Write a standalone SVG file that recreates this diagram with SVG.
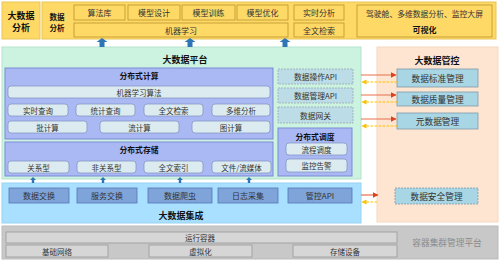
<svg xmlns="http://www.w3.org/2000/svg" width="500" height="263" viewBox="0 0 500 263">
<defs>
<style>
text{font-family:"Noto Sans CJK SC","Liberation Sans",sans-serif;fill:#333;text-anchor:middle;dominant-baseline:central}
.b{font-weight:bold;fill:#111}
.yel{fill:#FFD966;stroke:#E8C55A;stroke-width:1}
.yin{fill:#FFD966;stroke:#B8962E;stroke-width:0.8}
.grn{fill:#CCF2E0;stroke:#B5E3CC;stroke-width:1}
.per{fill:#AAB8F4;stroke:#7A8BD6;stroke-width:1}
.lt{fill:#DCEBF0;stroke:#8597C4;stroke-width:0.8}
.api{fill:#BCDDE8;stroke:#9AAAB0;stroke-width:0.8;stroke-dasharray:2 1}
.ib{fill:#A9E0FF;stroke:#98D2F2;stroke-width:1}
.ibox{fill:#7FA4DA;stroke:#5577B5;stroke-width:0.8}
.pch{fill:#FDE5D2;stroke:#F6D8C0;stroke-width:1}
.mg{fill:#A9D6E4;stroke:#7F9AA8;stroke-width:0.8}
.gry{fill:#C8C8C8;stroke:#BBBBBB;stroke-width:1}
.gin{fill:#D6D6D6;stroke:#9A9A9A;stroke-width:0.8}
.s{stroke:#E8704A;stroke-width:1.2;fill:none}
.d{stroke:#FFC000;stroke-width:1;stroke-dasharray:2.5 1.5;fill:none}
.blue{fill:#2E75B6}
</style>
<marker id="ah" viewBox="0 0 6 6" refX="5.5" refY="3" markerWidth="6" markerHeight="6" markerUnits="userSpaceOnUse" orient="auto"><path d="M0,0 L6,3 L0,6 Z" fill="#D9441C"/></marker>
<marker id="ahy" viewBox="0 0 6 6" refX="5.5" refY="3" markerWidth="5" markerHeight="5" markerUnits="userSpaceOnUse" orient="auto"><path d="M0,0 L6,3 L0,6 Z" fill="#FFC000"/></marker>
</defs>

<g id="analysis">
<rect class="yel" x="2" y="2" width="38" height="37"/>
<text class="b" x="21" y="15" font-size="9">大数据</text>
<text class="b" x="21" y="27" font-size="9">分析</text>
<rect class="yel" x="42" y="2" width="454" height="37"/>
<text class="b" x="57" y="16" font-size="7.5">数据</text>
<text class="b" x="57" y="27" font-size="7.5">分析</text>
<g id="n-suanfaku"><rect class="yin" x="74" y="5" width="51" height="15"/><text x="99.5" y="12.5" font-size="8">算法库</text></g>
<g id="n-moxingsheji"><rect class="yin" x="128" y="5" width="52" height="15"/><text x="154" y="12.5" font-size="8">模型设计</text></g>
<g id="n-moxingxunlian"><rect class="yin" x="182" y="5" width="53" height="15"/><text x="208.5" y="12.5" font-size="8">模型训练</text></g>
<g id="n-moxingyouhua"><rect class="yin" x="237" y="5" width="51" height="15"/><text x="262.5" y="12.5" font-size="8">模型优化</text></g>
<g id="n-jiqixuexi"><rect class="yin" x="74" y="23" width="214" height="14"/><text x="181" y="30" font-size="8">机器学习</text></g>
<g id="n-shishifenxi"><rect class="yin" x="294" y="5" width="50" height="15"/><text x="319" y="12.5" font-size="8">实时分析</text></g>
<g id="n-quanwenjiansuo-top"><rect class="yin" x="294" y="23" width="50" height="14"/><text x="319" y="30" font-size="8">全文检索</text></g>
<g id="n-keshihua"><rect class="yin" x="357" y="5" width="135" height="32"/><text x="424.5" y="13.5" font-size="7.8">驾驶舱、多维数据分析、监控大屏</text><text class="b" x="424.5" y="29" font-size="8">可视化</text></g>
</g>

<g id="platform">
<rect class="grn" x="2" y="47" width="359" height="132"/>
<text class="b" x="185" y="59" font-size="9">大数据平台</text>
<g id="compute">
<rect class="per" x="5" y="68" width="268" height="71"/>
<text class="b" x="139" y="75.5" font-size="7.8">分布式计算</text>
<g id="n-jqxxsf"><rect class="lt" x="8" y="86" width="262" height="12" rx="3"/><text x="139" y="92" font-size="7.5">机器学习算法</text></g>
<g id="n-sscx"><rect class="lt" x="8" y="104" width="60" height="12" rx="3"/><text x="38" y="110" font-size="7.5">实时查询</text></g>
<g id="n-tjcx"><rect class="lt" x="76" y="104" width="59" height="12" rx="3"/><text x="105.5" y="110" font-size="7.5">统计查询</text></g>
<g id="n-qwjs"><rect class="lt" x="144" y="104" width="59" height="12" rx="3"/><text x="173.5" y="110" font-size="7.5">全文检索</text></g>
<g id="n-dwfx"><rect class="lt" x="212" y="104" width="58" height="12" rx="3"/><text x="241" y="110" font-size="7.5">多维分析</text></g>
<g id="n-pjs"><rect class="lt" x="8" y="121" width="79" height="12" rx="3"/><text x="47.5" y="127" font-size="7.5">批计算</text></g>
<g id="n-ljs"><rect class="lt" x="100" y="121" width="79" height="12" rx="3"/><text x="139.5" y="127" font-size="7.5">流计算</text></g>
<g id="n-tjs"><rect class="lt" x="192" y="121" width="78" height="12" rx="3"/><text x="231" y="127" font-size="7.5">图计算</text></g>
</g>
<g id="storage">
<rect class="per" x="5" y="142" width="268" height="34"/>
<text class="b" x="139" y="149" font-size="7.8">分布式存储</text>
<g id="n-gxx"><rect class="lt" x="8" y="161" width="61" height="12" rx="3"/><text x="38.5" y="167" font-size="7.5">关系型</text></g>
<g id="n-fgxx"><rect class="lt" x="77" y="161" width="59" height="12" rx="3"/><text x="106.5" y="167" font-size="7.5">非关系型</text></g>
<g id="n-qwsy"><rect class="lt" x="144" y="161" width="59" height="12" rx="3"/><text x="173.5" y="167" font-size="7.5">全文索引</text></g>
<g id="n-wjlmt"><rect class="lt" x="212" y="161" width="59" height="12" rx="3"/><text x="241.5" y="167" font-size="7.5">文件/流媒体</text></g>
</g>
<g id="n-sjczapi"><rect class="api" x="278" y="69" width="75" height="15"/><text x="315.5" y="76.5" font-size="7.8">数据操作API</text></g>
<g id="n-sjglapi"><rect class="api" x="278" y="88" width="75" height="15"/><text x="315.5" y="95.5" font-size="7.8">数据管理API</text></g>
<g id="n-sjwg"><rect class="api" x="278" y="107" width="75" height="16"/><text x="315.5" y="115" font-size="7.8">数据网关</text></g>
<g id="scheduling">
<rect class="per" x="278" y="128" width="74" height="48"/>
<text class="b" x="315" y="136.5" font-size="7.8">分布式调度</text>
<g id="n-lcdd"><rect class="lt" x="286" y="143" width="61" height="12" rx="3"/><text x="316.5" y="149" font-size="7.5">流程调度</text></g>
<g id="n-jkgj"><rect class="lt" x="286" y="159" width="61" height="13" rx="3"/><text x="316.5" y="165.5" font-size="7.5">监控告警</text></g>
</g>
</g>

<g id="integration">
<rect class="ib" x="2" y="183" width="359" height="40"/>
<g id="n-sjjh"><rect class="ibox" x="9" y="188" width="60" height="15"/><text x="39" y="195.5" font-size="8">数据交换</text></g>
<g id="n-fwjh"><rect class="ibox" x="77" y="188" width="60" height="15"/><text x="107" y="195.5" font-size="8">服务交换</text></g>
<g id="n-sjpc"><rect class="ibox" x="148" y="188" width="64" height="15"/><text x="180" y="195.5" font-size="8">数据爬虫</text></g>
<g id="n-rzcj"><rect class="ibox" x="218" y="188" width="60" height="15"/><text x="248" y="195.5" font-size="8">日志采集</text></g>
<g id="n-gkapi"><rect class="ibox" x="288" y="188" width="64" height="15"/><text x="320" y="195.5" font-size="8">管控API</text></g>
<text class="b" x="181" y="215" font-size="9">大数据集成</text>
</g>

<g id="governance">
<rect class="pch" x="377" y="47" width="121" height="175"/>
<text class="b" x="437" y="60" font-size="9">大数据管控</text>
<g id="n-sjbzgl"><rect class="mg" x="397" y="69" width="81" height="18"/><text x="437.5" y="78" font-size="8.7">数据标准管理</text></g>
<g id="n-sjzlgl"><rect class="mg" x="397" y="92" width="81" height="14"/><text x="437.5" y="99" font-size="8.7">数据质量管理</text></g>
<g id="n-ysjgl"><rect class="mg" x="397" y="113" width="81" height="16"/><text x="437.5" y="121" font-size="8.7">元数据管理</text></g>
<g id="n-sjaqgl"><rect class="mg" x="395" y="188" width="83" height="16" stroke-dasharray="2 1"/><text x="436.5" y="196" font-size="8.7">数据安全管理</text></g>
</g>

<g id="container">
<rect class="gry" x="2" y="226" width="496" height="33"/>
<g id="n-yxrq"><rect class="gin" x="6" y="232" width="391" height="11"/><text x="200" y="237.5" font-size="7.5">运行容器</text></g>
<g id="n-jcwl"><rect class="gin" x="6" y="245" width="102" height="12"/><text x="57" y="251" font-size="7.5">基础网络</text></g>
<g id="n-xnh"><rect class="gin" x="149" y="245" width="103" height="12"/><text x="200.5" y="251" font-size="7.5">虚拟化</text></g>
<g id="n-ccsb"><rect class="gin" x="293" y="245" width="104" height="12"/><text x="345" y="251" font-size="7.5">存储设备</text></g>
<text x="447" y="242" font-size="8.7" style="fill:#8A8A8A">容器集群管理平台</text>
</g>

<g id="connectors">
<path class="blue" d="M102,38 L107.5,42 L104.5,42 L104.5,47 L99.5,47 L99.5,42 L96.5,42 Z"/>
<path class="blue" d="M190,38 L195.5,42 L192.5,42 L192.5,47 L187.5,47 L187.5,42 L184.5,42 Z"/>
<path class="blue" d="M285,38 L290.5,42 L287.5,42 L287.5,47 L282.5,47 L282.5,42 L279.5,42 Z"/>
<path class="blue" d="M33,177 L36,180 L34.2,180 L34.2,183 L31.8,183 L31.8,180 L30,180 Z"/>
<path class="blue" d="M103,177 L106,180 L104.2,180 L104.2,183 L101.8,183 L101.8,180 L100,180 Z"/>
<path class="blue" d="M180,177 L183,180 L181.2,180 L181.2,183 L178.8,183 L178.8,180 L177,180 Z"/>
<path class="blue" d="M249,177 L252,180 L250.2,180 L250.2,183 L247.8,183 L247.8,180 L246,180 Z"/>
<line class="s" x1="361" y1="75" x2="396" y2="75" marker-end="url(#ah)"/>
<line class="d" x1="397" y1="82" x2="362" y2="82" marker-end="url(#ahy)"/>
<line class="s" x1="361" y1="95" x2="396" y2="95" marker-end="url(#ah)"/>
<line class="d" x1="397" y1="102" x2="362" y2="102" marker-end="url(#ahy)"/>
<line class="s" x1="361" y1="119" x2="396" y2="119" marker-end="url(#ah)"/>
<line class="d" x1="397" y1="126" x2="362" y2="126" marker-end="url(#ahy)"/>
<line class="s" x1="361" y1="195" x2="378" y2="195" marker-end="url(#ah)"/>
<line class="d" x1="377" y1="202" x2="362" y2="202" marker-end="url(#ahy)"/>
</g>
</svg>
